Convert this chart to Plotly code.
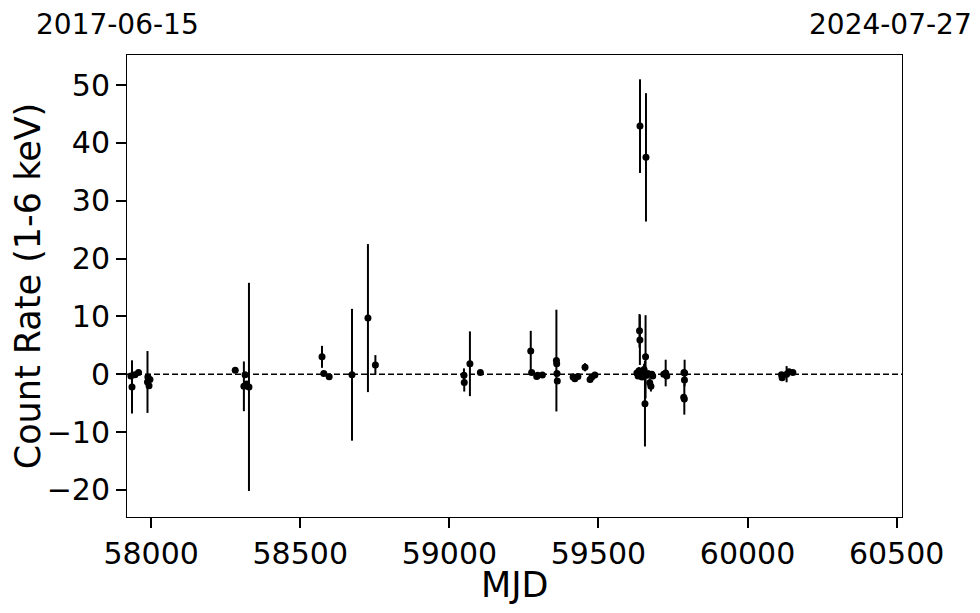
import plotly.graph_objects as go

mjd = [57932.0, 57935.8, 57945.8, 57957.6, 57987.7, 57989.0, 57992.8, 57996.0,
       58282.0, 58311.0, 58315.0, 58320.0, 58328.0,
       58573.0, 58579.0, 58597.0, 58673.5, 58727.0, 58752.0,
       59049.0, 59050.0, 59069.0, 59104.0,
       59273.0, 59276.0, 59293.0, 59296.0, 59312.0,
       59359.0, 59360.0, 59361.0, 59362.0,
       59415.0, 59421.0, 59431.0, 59455.0, 59472.0, 59478.0, 59488.0,
       59629.0, 59633.0, 59636.0, 59637.7, 59639.0, 59639.3, 59643.0, 59646.0,
       59649.0, 59653.0, 59656.0, 59658.0, 59659.4, 59662.0, 59666.0,
       59672.0, 59676.0, 59679.0, 59682.0,
       59719.0, 59725.5, 59729.0,
       59786.0, 59787.0, 59788.0, 59788.5, 59789.0,
       60114.0, 60116.0, 60131.0, 60139.0, 60152.0]
rate = [-0.3, -2.2, -0.1, 0.3, -1.35, -0.5, -2.0, -0.9,
        0.7, -2.1, -0.1, -1.7, -2.2,
        3.0, 0.1, -0.45, -0.1, 9.7, 1.6,
        -0.2, -1.45, 1.8, 0.3,
        4.0, 0.3, -0.4, -0.2, -0.15,
        2.35, 1.8, 0.1, -1.2,
        -0.5, -0.8, -0.4, 1.2, -0.9, -0.5, -0.15,
        0.2, -0.3, 0.6, 7.5, 5.9, 42.9, 0.0, -0.5,
        0.3, 0.8, -5.1, 3.0, 37.5, -0.2, 0.1,
        -1.5, -2.1, 0.0, -0.3,
        0.0, 0.2, -0.3,
        -4.0, 0.3, -4.3, -1.0, 0.2,
        -0.1, -0.6, 0.0, 0.4, 0.3]
err = [0.3, 4.6, 0.3, 0.2, 5.35, 0.4, 0.5, 0.6,
       0.2, 4.3, 0.3, 0.5, 18.0,
       1.9, 0.3, 0.3, 11.4, 12.8, 1.7,
       1.2, 1.55, 5.6, 0.2,
       3.5, 0.3, 0.3, 0.2, 0.2,
       8.8, 0.5, 0.3, 0.5,
       0.3, 0.3, 0.3, 0.7, 0.5, 0.3, 0.2,
       0.5, 0.4, 0.6, 2.9, 4.3, 8.1, 0.4, 0.5,
       0.3, 1.0, 7.4, 7.2, 11.1, 0.5, 0.4,
       0.8, 0.9, 0.5, 0.4,
       0.5, 2.3, 0.4,
       0.5, 0.4, 2.7, 0.6, 2.3,
       0.3, 0.3, 1.4, 0.3, 0.2]

x_range = [57919, 60518]
y_range = [-24.7, 55.2]
x_ticks = [58000, 58500, 59000, 59500, 60000, 60500]
y_ticks = [-20, -10, 0, 10, 20, 30, 40, 50]
date_start = "2017-06-15"
date_end = "2024-07-27"
x_title = "MJD"
y_title = "Count Rate (1-6 keV)"

FONT = "DejaVu Sans"

fig = go.Figure()
fig.add_trace(go.Scatter(
    x=mjd, y=rate, mode="markers",
    marker=dict(color="black", size=7),
    error_y=dict(type="data", array=err, color="black", thickness=2, width=0),
    showlegend=False,
))

fig.add_shape(type="line", xref="x domain", yref="y", x0=0, x1=1, y0=0, y1=0,
              line=dict(color="black", width=1.5, dash="6px,3px"), layer="below")

axis_common = dict(showgrid=False, zeroline=False, showline=True, linecolor="black",
                   linewidth=1, mirror=True, ticks="outside", ticklen=10, tickwidth=2,
                   tickcolor="black", tickfont=dict(family=FONT, size=30, color="black"))

fig.update_xaxes(range=x_range, tickvals=x_ticks, ticktext=[str(v) for v in x_ticks],
                 **axis_common)
fig.update_yaxes(range=y_range, tickvals=y_ticks,
                 title=dict(text=y_title, font=dict(family=FONT, size=35, color="black"), standoff=3),
                 **axis_common)

fig.add_annotation(text=x_title, xref="paper", yref="paper", x=0.5, y=-0.1472,
                   xanchor="center", yanchor="middle", showarrow=False,
                   font=dict(family=FONT, size=35, color="black"))
fig.add_annotation(text=date_start, xref="paper", yref="paper", x=-0.1200, y=1.066,
                   xanchor="left", yanchor="middle", showarrow=False,
                   font=dict(family=FONT, size=28, color="black"))
fig.add_annotation(text=date_end, xref="paper", yref="paper", x=1.093, y=1.066,
                   xanchor="right", yanchor="middle", showarrow=False,
                   font=dict(family=FONT, size=28, color="black"))

fig.update_layout(width=972, height=605, plot_bgcolor="white", paper_bgcolor="white",
                  margin=dict(l=119, r=78, t=47, b=96, autoexpand=False),
                  font=dict(family=FONT, color="black"))

fig.write_html("out.html")
